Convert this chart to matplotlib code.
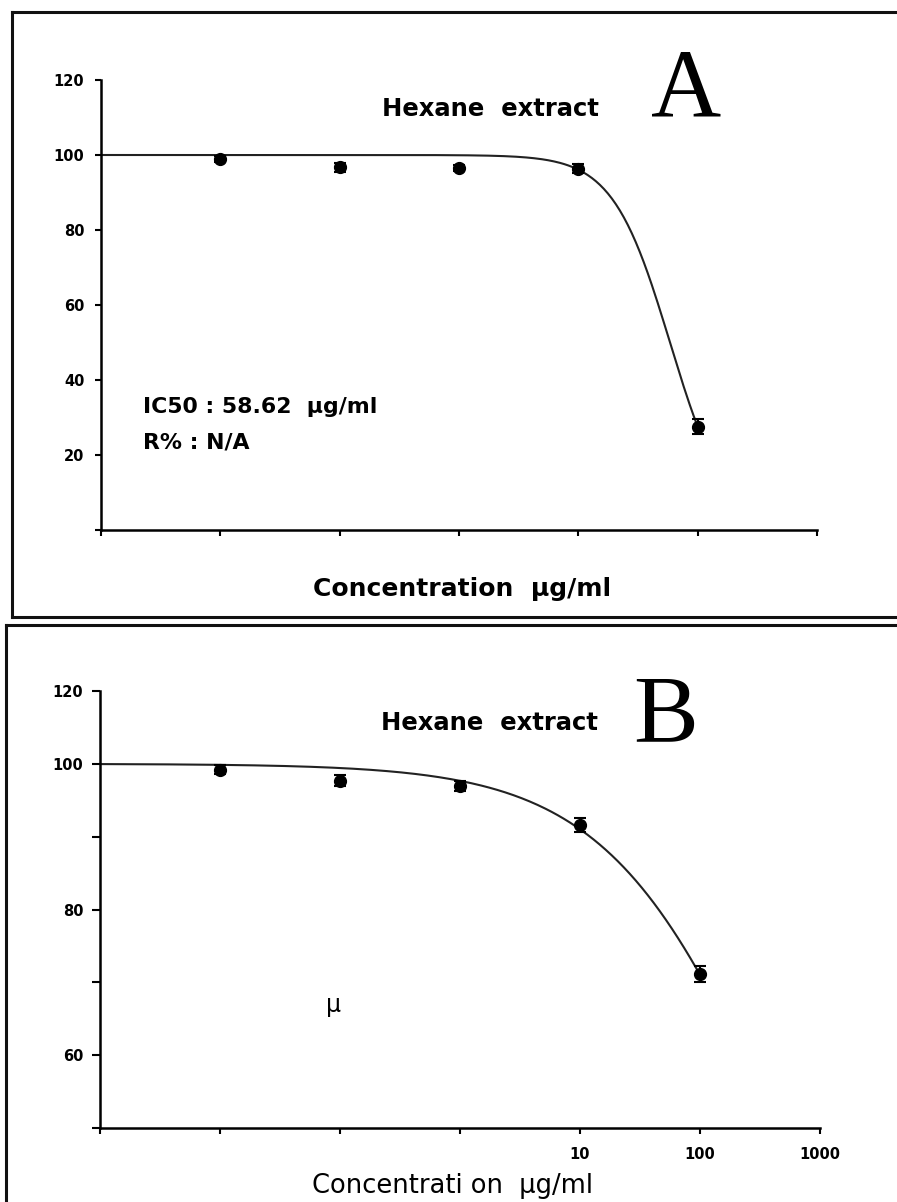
import numpy as np
import matplotlib
matplotlib.use("Agg")
import matplotlib.pyplot as plt
from matplotlib.lines import Line2D

# measured points (concentration in ug/ml, % viability, error)
conc = [0.01, 0.1, 1, 10, 100]
viab_a = [98.9, 96.8, 96.5, 96.3, 27.5]
err_a = [0.8, 1.2, 0.8, 1.2, 2.0]
viab_b = [99.2, 97.7, 97.0, 91.6, 71.1]
err_b = [0.6, 0.7, 0.7, 0.9, 1.1]

# fitted dose-response parameters
ic50_a, hill_a = 58.62, 1.81
ic50_b, hill_b = 429.0, 0.616

yticks_a = [0, 20, 40, 60, 80, 100, 120]
ylabels_a = ["", "20", "40", "60", "80", "100", "120"]
yticks_b = [50, 60, 70, 80, 90, 100, 110]
ylabels_b = ["", "60", "", "80", "", "100", "120"]
xticks = [1e-3, 1e-2, 1e-1, 1, 10, 100, 1000]
xlabels_b = ["", "", "", "", "10", "100", "1000"]

W, H = 897, 1202


def box(x0, y0, x1, y1):
    return [x0 / W, 1 - y1 / H, (x1 - x0) / W, (y1 - y0) / H]


def ftext(x, y, s, **kw):
    fig.text(x / W, 1 - y / H, s, va="baseline", **kw)


def hill(x, ic50, h):
    return 100.0 / (1.0 + (x / ic50) ** h)


fig = plt.figure(figsize=(W / 100, H / 100), dpi=100)

# panel frames
for (x0, y0, x1, y1) in [(12, 12, 897, 12), (12, 12, 12, 617), (12, 617, 897, 617),
                         (6, 625, 897, 625), (6, 625, 6, 1202)]:
    fig.add_artist(Line2D([x0 / W, x1 / W], [1 - y0 / H, 1 - y1 / H],
                          color="#111111", lw=2.2))


def style(ax, ylo, yhi, yt, yl, xl, ylen, ypad):
    ax.set_xscale("log")
    ax.set_xlim(1e-3, 1e3)
    ax.set_ylim(ylo, yhi)
    for s in ["top", "right"]:
        ax.spines[s].set_visible(False)
    for s in ["left", "bottom"]:
        ax.spines[s].set_linewidth(1.8)
    ax.set_xticks(xticks)
    ax.set_xticklabels(xl)
    ax.xaxis.set_minor_locator(matplotlib.ticker.NullLocator())
    ax.set_yticks(yt)
    ax.set_yticklabels(yl)
    ax.tick_params(axis="y", length=ylen, width=1.5, pad=ypad)
    ax.tick_params(axis="x", length=4, width=1.5, pad=10)
    for lab in ax.get_xticklabels() + ax.get_yticklabels():
        lab.set_family("DejaVu Sans")
        lab.set_fontweight("bold")
        lab.set_fontsize(10.5)
    ax.patch.set_alpha(0)


xfit = np.logspace(-3, 2, 300)

# panel A
axA = fig.add_axes(box(101, 80, 817, 530))
style(axA, 0, 120, yticks_a, ylabels_a, [""] * 7, 4, 8)
axA.plot(xfit, hill(xfit, ic50_a, hill_a), color="#222222", lw=1.5)
axA.errorbar(conc, viab_a, yerr=err_a, fmt="o", color="black", ms=8.5,
             capsize=4, elinewidth=1.5, capthick=1.5)

# panel B
axB = fig.add_axes(box(100, 691, 820, 1128))
style(axB, 50, 110, yticks_b, ylabels_b, xlabels_b, 6, 6)
axB.plot(xfit, hill(xfit, ic50_b, hill_b), color="#222222", lw=1.5)
axB.errorbar(conc, viab_b, yerr=err_b, fmt="o", color="black", ms=8.5,
             capsize=4, elinewidth=1.5, capthick=1.5)

bold = dict(family="DejaVu Sans", fontweight="bold", color="black")
ftext(382, 116, "Hexane  extract", fontsize=17.5, **bold)
ftext(381, 730, "Hexane  extract", fontsize=17.5, **bold)
ftext(143, 413, "IC50 : 58.62  \u00b5g/ml", fontsize=15.8, **bold)
ftext(143, 448, "R% : N/A", fontsize=15.8, **bold)
ftext(462, 596, "Concentration  \u00b5g/ml", fontsize=18, ha="center", **bold)

ftext(312, 1193, "Concentrati on  \u00b5g/ml", fontsize=18.5,
      family="DejaVu Sans", color="black")
ftext(326, 1012, "\u00b5", fontsize=17, family="DejaVu Sans", color="black")

ftext(686, 115, "A", fontsize=70, family="Liberation Serif", ha="center")
ftext(666, 742, "B", fontsize=70, family="Liberation Serif", ha="center")

fig.savefig("out.png", dpi=100)
